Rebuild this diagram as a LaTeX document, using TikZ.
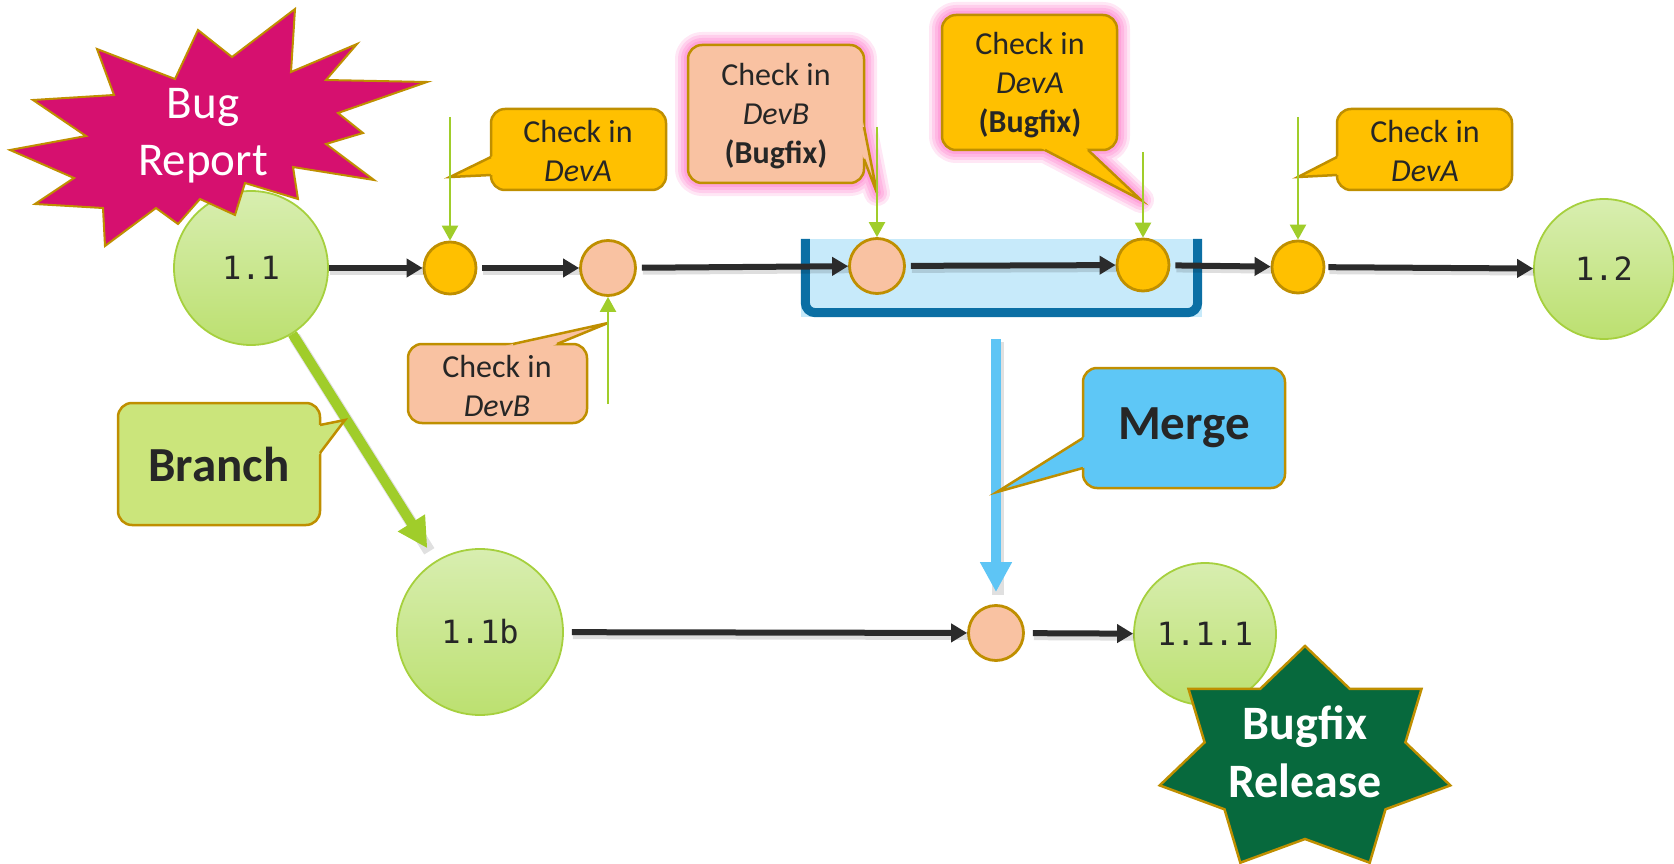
\documentclass[tikz,border=0pt]{standalone}
\usepackage{fontspec}
\setmainfont{Carlito}
\newfontfamily\digitfont{DejaVu Sans Mono}
\usetikzlibrary{arrows.meta,calc}
\definecolor{gold}{HTML}{FFC000}
\definecolor{goldline}{HTML}{BF8F00}
\definecolor{salmon}{HTML}{F9C2A2}
\definecolor{gtop}{HTML}{D8EEB0}
\definecolor{gbot}{HTML}{BCE070}
\definecolor{gline}{HTML}{A6D03E}
\definecolor{lime}{HTML}{A0CD2A}
\definecolor{branchfill}{HTML}{CBE57B}
\definecolor{mergefill}{HTML}{5EC7F6}
\definecolor{mergearrow}{HTML}{5EC5F5}
\definecolor{boxfill}{HTML}{C7EAFA}
\definecolor{boxline}{HTML}{0B6FA4}
\definecolor{bugred}{HTML}{D6106F}
\definecolor{relgreen}{HTML}{07693D}
\definecolor{txt}{HTML}{262626}
\definecolor{arrdark}{HTML}{2B2B2B}
\definecolor{glowpink}{HTML}{FF85CF}

% callout: #1 fill, #2 top-left, #3 bottom-right, #4 base1, #5 tip, #6 base2
\newcommand\callout[6]{%
  \filldraw[fill=#1, draw=goldline, line width=2.5pt, rounded corners=14pt] (#2) rectangle (#3);
  \fill[#1] ($(#4)!-7pt!(#5)$) -- (#5) -- ($(#6)!-7pt!(#5)$) -- cycle;
  \draw[goldline, line width=2.5pt, line join=miter] (#4) -- (#5) -- (#6);
}
% glow: #1 top-left, #2 bottom-right, #3 base1, #4 tip, #5 base2
\newcommand\glowshape[5]{%
  \foreach \w/\o in {26/0.2, 20/0.25, 14/0.3, 8/0.4}{%
    \begin{scope}[transparency group, opacity=\o]
      \draw[glowpink, line width=\w pt, rounded corners=14pt, line join=round] (#1) rectangle (#2);
      \filldraw[glowpink, line width=\w pt, line join=round] (#3) -- (#4) -- (#5) -- cycle;
      \fill[glowpink, rounded corners=14pt] (#1) rectangle (#2);
    \end{scope}}%
}

\begin{document}
\begin{tikzpicture}[x=1pt,y=-1pt,
  bigc/.style={circle, draw=gline, line width=1.8pt, top color=gtop, bottom color=gbot,
    text=txt, font=\digitfont\fontsize{32}{32}\selectfont, inner sep=0pt, minimum size=#1},
  smallc/.style={circle, draw=goldline, line width=2.8pt, inner sep=0pt, minimum size=#1},
  arr/.style={-{Triangle[length=16pt,width=18pt]}, line width=6pt, draw=arrdark,
    preaction={draw=black, draw opacity=0.13, line width=8pt, -, transform canvas={shift={(1,3)}}}},
  garr/.style={-{Triangle[length=15pt,width=16pt]}, line width=2.4pt, draw=lime},
  barr/.style={-{Triangle[length=30pt,width=30pt]}, line width=10pt, draw=#1},
  cotext/.style={text=txt, align=center, font=\fontsize{32}{39}\selectfont, inner sep=0pt},
  bigtext/.style={text=txt, align=center, font=\bfseries\fontsize{49}{58}\selectfont, inner sep=0pt},
  startext/.style={text=white, align=center, inner sep=0pt}
]
\useasboundingbox (0,0) rectangle (1674,864);

% glows behind highlighted callouts
\glowshape{688,45}{864,183}{864,127}{877,193}{864,159}
\glowshape{942,15}{1117,150}{1045,150}{1141,200}{1088,150}

% container box
\node[fill=boxfill, minimum width=401pt, minimum height=78pt, inner sep=0pt] (box) at (1001.5,278) {};
\draw[boxline, line width=9pt, rounded corners=10pt]
  ($(box.north west)+(4.5,0)$) -- ($(box.south west)+(4.5,-4.5)$) --
  ($(box.south east)+(-4.5,-4.5)$) -- ($(box.north east)+(-4.5,0)$);

% version circles
\node[bigc=154pt] (c11) at (251,268) {1.1};
\node[bigc=140pt] (c12) at (1604,269) {1.2};
\node[bigc=166pt] (c11b) at (480,632) {1.1b};
\node[bigc=142pt] (c111) at (1205,634) {1.1.1};

% check-in circles
\node[smallc=52pt, fill=gold] (y1) at (450,268) {};
\node[smallc=55pt, fill=salmon] (s2) at (608,268) {};
\node[smallc=55pt, fill=salmon] (s3) at (877,266) {};
\node[smallc=52pt, fill=gold] (y4) at (1143,265) {};
\node[smallc=52pt, fill=gold] (y5) at (1298,267) {};
\node[smallc=55pt, fill=salmon] (s6) at (996,633) {};

% main line arrows
\draw[arr] (c11) -- (y1);
\draw[arr, shorten <=5pt] (y1) -- (s2);
\draw[arr, shorten <=5pt] (s2) -- (s3);
\draw[arr, shorten <=5pt] (s3) -- (y4);
\draw[arr, shorten <=5pt] (y4) -- (y5);
\draw[arr, shorten <=3pt] (y5) -- (c12);
\draw[arr, shorten <=8pt] (c11b) -- (s6);
\draw[arr, shorten <=8pt] (s6) -- (c111);

% branch and merge arrows
\draw[barr=lime, shorten >=15pt, preaction={draw=black, draw opacity=0.12, line width=12pt, -, transform canvas={shift={(2,3)}}}] (c11) -- (c11b);
\draw[barr=mergearrow, shorten <=22pt, shorten >=12pt, preaction={draw=black, draw opacity=0.12, line width=12pt, -, transform canvas={shift={(2,3)}}}] (s6 |- box.south) -- (s6);

% Bug Report starburst
\filldraw[fill=bugred, draw=goldline, line width=2pt, line join=miter]
 (97,49) -- (175,79) -- (198,30) -- (232,57) -- (295,9) -- (291,72) -- (357,44) -- (326,80)
 -- (427,82) -- (338,113) -- (363,133) -- (326,144) -- (374,180) -- (293,167) -- (298,199)
 -- (245,183) -- (235,215) -- (200,199) -- (178,224) -- (156,208) -- (105,246) -- (103,208)
 -- (35,204) -- (74,178) -- (10,150) -- (86,136) -- (33,100) -- (114,95) -- cycle;
\node[startext, font=\fontsize{47}{57}\selectfont] (bug) at (203,136) {Bug\\Report};

% Bugfix Release star
\filldraw[fill=relgreen, draw=goldline, line width=2.5pt, line join=miter]
 (1305,646) -- (1349.7,688.8) -- (1421.5,688.9) -- (1405.4,742.4) -- (1450.3,785.4)
 -- (1385.5,809.3) -- (1369.7,862.7) -- (1305,839) -- (1240.3,862.7) -- (1224.5,809.3)
 -- (1159.7,785.4) -- (1204.6,742.4) -- (1188.5,688.9) -- (1260.3,688.8) -- cycle;
\node[startext, font=\bfseries\fontsize{48}{58}\selectfont] (rel) at (1305,752) {Bugfix\\Release};

% callouts
\callout{gold}{491,109}{666,190}{491,157}{450,177}{491,175}
\node[cotext] (ca1) at (578,151) {Check in\\\textit{DevA}};
\callout{salmon}{408,344}{587,423}{513,344}{608,323}{557,344}
\node[cotext] (cb1) at (497,386) {Check in\\\textit{DevB}};
\callout{salmon}{688,45}{864,183}{864,127}{877,193}{864,159}
\node[cotext] (cb2) at (776,116) {Check in\\\textit{DevB}\\\textbf{(Bugfix)}};
\callout{gold}{942,15}{1117,150}{1045,150}{1141,200}{1088,150}
\node[cotext] (ca2) at (1030,85) {Check in\\\textit{DevA}\\\textbf{(Bugfix)}};
\callout{gold}{1337,109}{1512,190}{1337,157}{1298,177}{1337,175}
\node[cotext] (ca3) at (1425,151) {Check in\\\textit{DevA}};
\callout{branchfill}{118,403}{320,525}{320,425}{345,420}{320,453}
\node[bigtext] (branch) at (219,464) {Branch};
\callout{mergefill}{1083,368}{1285,488}{1083,438}{997,492}{1083,468}
\node[bigtext] (merge) at (1184,428) {Merge};

% check-in pointers
\coordinate (g1) at (450,117);
\coordinate (g2) at (608,404);
\coordinate (g3) at (877,127);
\coordinate (g4) at (1143,152);
\coordinate (g5) at (1298,117);
\draw[garr] (g1) -- (y1);
\draw[garr] (g2) -- (s2);
\draw[garr] (g3) -- (s3);
\draw[garr] (g4) -- (y4);
\draw[garr] (g5) -- (y5);
\end{tikzpicture}
\end{document}
